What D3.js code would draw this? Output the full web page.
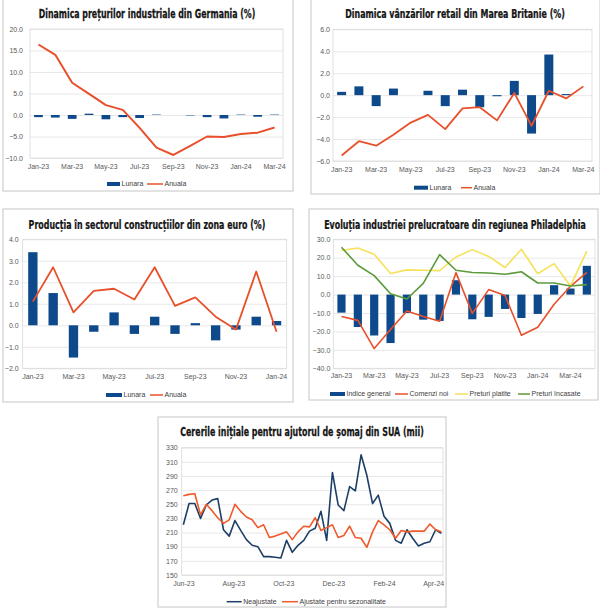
<!DOCTYPE html>
<html>
<head>
<meta charset="utf-8">
<script src="https://cdn.jsdelivr.net/npm/d3@7"></script>
<style>
  body { margin: 0; background: #fff; }
  svg text { font-family: "Liberation Sans", Arial, sans-serif; }
  .tick text { fill: #595959; font-size: 7px; }
  .title { font-family: "Liberation Sans Narrow", "DejaVu Sans Condensed", sans-serif; font-weight: bold; font-size: 12.5px; fill: #151515; stroke: #151515; stroke-width: 0.25; }
  .legend text { font-size: 7px; fill: #404040; }
  .grid line { stroke: #e2e2e2; stroke-width: 0.8; }
</style>
</head>
<body>
<div id="graphic"></div>
<script>
// ---- data ----
var months15 = ["Jan-23","Feb-23","Mar-23","Apr-23","May-23","Jun-23","Jul-23","Aug-23","Sep-23","Oct-23","Nov-23","Dec-23","Jan-24","Feb-24","Mar-24"];
var months13 = ["Jan-23","Feb-23","Mar-23","Apr-23","May-23","Jun-23","Jul-23","Aug-23","Sep-23","Oct-23","Nov-23","Dec-23","Jan-24"];
var months16 = ["Jan-23","Feb-23","Mar-23","Apr-23","May-23","Jun-23","Jul-23","Aug-23","Sep-23","Oct-23","Nov-23","Dec-23","Jan-24","Feb-24","Mar-24","Apr-24"];

// Germania - preturi industriale (%)
var deLunara = [-0.5, -0.6, -0.9, 0.3, -1.0, -0.5, -0.7, 0.1, 0.0, -0.1, -0.5, -0.8, 0.1, -0.4, 0.1];
var deAnuala = [16.4, 14.0, 7.5, 4.9, 2.3, 1.2, -3.0, -7.6, -9.3, -7.2, -5.0, -5.1, -4.4, -4.1, -2.9];

// Marea Britanie - vanzari retail (%)
var ukLunara = [0.3, 0.8, -1.0, 0.6, 0.0, 0.4, -1.0, 0.5, -1.1, -0.1, 1.3, -3.5, 3.7, 0.1, 0.0];
var ukAnuala = [-5.5, -4.2, -4.6, -3.6, -2.5, -1.8, -3.1, -1.2, -1.1, -2.3, 0.2, -2.8, 0.4, -0.3, 0.8];

// zona euro - constructii (%)
var ezLunara = [3.4, 1.5, -1.5, -0.3, 0.6, -0.4, 0.4, -0.4, 0.1, -0.7, -0.2, 0.4, 0.2];
var ezAnuala = [1.1, 2.7, 0.6, 1.6, 1.7, 1.2, 2.7, 0.9, 1.3, 0.4, -0.2, 2.5, -0.3];

// Philadelphia
var phIndice   = [-9.8, -17.6, -22.2, -26.3, -10.0, -13.6, -14.3, 7.8, -13.4, -12.1, -7.8, -12.7, -10.5, 5.1, 3.3, 15.6];
var phComenzi  = [-11.9, -14.0, -29.3, -19.0, -8.9, -11.9, -14.5, 11.9, -10.2, 2.7, -0.5, -22.1, -17.7, -5.2, 4.5, 12.0];
var phPlatite  = [23.9, 25.3, 21.9, 11.4, 13.4, 13.2, 13.0, 20.4, 24.4, 20.7, 14.7, 24.6, 11.3, 16.8, 4.7, 23.6];
var phIncasate = [25.7, 15.9, 10.3, 0.5, -2.4, 6.1, 21.7, 13.2, 12.0, 11.7, 11.0, 12.4, 6.3, 6.3, 4.7, 5.4];

// SUA - cereri initiale somaj (mii), saptamanal
var weeks = ["2023-06-01","2023-06-08","2023-06-15","2023-06-22","2023-06-29","2023-07-06","2023-07-13","2023-07-20","2023-07-27",
  "2023-08-03","2023-08-10","2023-08-17","2023-08-24","2023-08-31","2023-09-07","2023-09-14","2023-09-21","2023-09-28",
  "2023-10-05","2023-10-12","2023-10-19","2023-10-26","2023-11-02","2023-11-09","2023-11-16","2023-11-23","2023-11-30",
  "2023-12-07","2023-12-14","2023-12-21","2023-12-28","2024-01-04","2024-01-11","2024-01-18","2024-01-25","2024-02-01",
  "2024-02-08","2024-02-15","2024-02-22","2024-02-29","2024-03-07","2024-03-14","2024-03-21","2024-03-28","2024-04-04","2024-04-11"];
var claimsNSA = [221, 251, 251, 230, 249, 256, 258, 214, 205, 227, 213, 200, 192, 190, 176, 176, 175, 174, 199, 182,
  192, 199, 212, 216, 240, 199, 295, 249, 241, 275, 269, 320, 291, 251, 263, 233, 223, 199, 195, 214, 202, 191, 195, 197, 214, 209];
var claimsSA = [262, 264, 265, 235, 250, 241, 231, 223, 228, 250, 240, 232, 228, 217, 221, 203, 205, 208, 211, 200,
  211, 219, 218, 231, 213, 217, 221, 203, 206, 219, 203, 202, 189, 211, 227, 221, 214, 202, 213, 211, 212, 212, 212, 222, 214, 211];
var claimsTicks = ["2023-06-01","2023-08-01","2023-10-01","2023-12-01","2024-02-01","2024-04-01"];

var barColour = "#0e4a8b", redColour = "#e8502c";

var svg = d3.select('#graphic').append('svg')
  .attr('width', 600)
  .attr('height', 608);

function drawPanel(p) {
  var g = svg.append('g');

  g.append('rect')
    .attr('x', p.box[0]).attr('y', p.box[1])
    .attr('width', p.box[2] - p.box[0]).attr('height', p.box[3] - p.box[1])
    .attr('fill', '#fff').attr('stroke', '#c6c6c6');

  // title squeezed horizontally to the reference width
  var tg = g.append('g');
  var tt = tg.append('text')
    .attr('class', 'title')
    .attr('text-anchor', 'middle')
    .text(p.title.text);
  var natural = tt.node().getComputedTextLength();
  tg.attr('transform', 'translate(' + p.title.x + ',' + p.title.y + ') scale(' + (p.title.w / natural) + ',1)');

  var y = d3.scaleLinear().domain(p.yDomain).range([p.plot.y1, p.plot.y0]);
  var w = p.plot.x1 - p.plot.x0;

  // gridlines
  g.append('g')
    .attr('class', 'grid')
    .attr('transform', 'translate(' + p.plot.x0 + ',0)')
    .call(d3.axisLeft(y).tickValues(p.yTicks).tickSize(-w).tickFormat(''))
    .call(s => s.select('.domain').remove());
  g.append('rect')
    .attr('x', p.plot.x0).attr('y', p.plot.y0)
    .attr('width', w).attr('height', p.plot.y1 - p.plot.y0)
    .attr('fill', 'none').attr('stroke', '#d9d9d9').attr('stroke-width', 0.8);

  // y axis
  g.append('g')
    .attr('transform', 'translate(' + p.plot.x0 + ',0)')
    .call(d3.axisLeft(y).tickValues(p.yTicks).tickSize(0).tickPadding(p.yPad).tickFormat(d3.format(p.yFormat)))
    .call(s => s.select('.domain').remove())
    .selectAll('text').style('font-family', '"Liberation Sans", Arial, sans-serif');

  // x axis
  var x, xc;
  if (p.time) {
    x = d3.scaleTime().domain(p.xDomain).range([p.plot.x0, p.plot.x1]);
    xc = x;
  } else {
    x = d3.scaleBand().domain(p.categories).range([p.plot.x0, p.plot.x1]).padding(0);
    xc = d => x(d) + x.bandwidth() / 2;
  }
  var xAxis = d3.axisBottom(x).tickSize(0).tickPadding(p.xPad).tickValues(p.xTicks);
  if (p.time) xAxis.tickFormat(d3.timeFormat('%b-%y'));
  g.append('g')
    .attr('transform', 'translate(0,' + p.plot.y1 + ')')
    .call(xAxis)
    .call(s => s.select('.domain').remove());

  // bars
  (p.bars || []).forEach(function(b) {
    var bw = x.bandwidth() * b.width;
    g.append('g').selectAll('rect')
      .data(b.values)
      .join('rect')
      .attr('x', (d, i) => xc(p.categories[i]) - bw / 2)
      .attr('width', bw)
      .attr('y', d => y(Math.max(0, d)))
      .attr('height', d => Math.abs(y(d) - y(0)))
      .attr('fill', b.colour);
  });

  // lines
  (p.lines || []).forEach(function(l) {
    var line = d3.line()
      .x((d, i) => xc(p.categories[i]))
      .y(d => y(d));
    g.append('path')
      .attr('d', line(l.values))
      .attr('fill', 'none')
      .attr('stroke', l.colour)
      .attr('stroke-width', l.width || 1.8)
      .attr('stroke-linejoin', 'round');
  });

  // legend
  var lg = g.append('g').attr('class', 'legend');
  p.legend.items.forEach(function(it) {
    if (it.type == 'bar') {
      lg.append('rect')
        .attr('x', it.x0).attr('y', p.legend.y - 2)
        .attr('width', it.x1 - it.x0).attr('height', 4)
        .attr('fill', it.colour);
    } else {
      lg.append('line')
        .attr('x1', it.x0).attr('x2', it.x1)
        .attr('y1', p.legend.y).attr('y2', p.legend.y)
        .attr('stroke', it.colour).attr('stroke-width', 1.5);
    }
    lg.append('text')
      .attr('x', it.x1 + 1.5).attr('y', p.legend.y)
      .attr('dy', '0.35em')
      .text(it.label);
  });
}

var every2 = arr => arr.filter((d, i) => i % 2 == 0);

// 1. Germania
drawPanel({
  box: [3, -1, 293, 191],
  title: { text: "Dinamica prețurilor industriale din Germania (%)", x: 147, y: 18, w: 217 },
  plot: { x0: 30, x1: 283, y0: 29, y1: 158 },
  yDomain: [-10, 20], yTicks: [-10, -5, 0, 5, 10, 15, 20], yFormat: '.1f', yPad: 7,
  categories: months15, xTicks: every2(months15), xPad: 6,
  bars: [{ values: deLunara, colour: barColour, width: 0.52 }],
  lines: [{ values: deAnuala, colour: redColour, width: 2 }],
  legend: { y: 184, items: [
    { type: 'bar', x0: 107, x1: 120, colour: barColour, label: 'Lunara' },
    { type: 'line', x0: 147, x1: 163, colour: redColour, label: 'Anuala' }] }
});

// 2. Marea Britanie
drawPanel({
  box: [311, -1, 600, 194],
  title: { text: "Dinamica vânzărilor retail din Marea Britanie (%)", x: 455, y: 18, w: 220 },
  plot: { x0: 333, x1: 592, y0: 29.3, y1: 161 },
  yDomain: [-6, 6], yTicks: [-6, -4, -2, 0, 2, 4, 6], yFormat: '.1f', yPad: 3,
  categories: months15, xTicks: every2(months15), xPad: 6,
  bars: [{ values: ukLunara, colour: barColour, width: 0.52 }],
  lines: [{ values: ukAnuala, colour: redColour, width: 1.8 }],
  legend: { y: 187.7, items: [
    { type: 'bar', x0: 414, x1: 428, colour: barColour, label: 'Lunara' },
    { type: 'line', x0: 461, x1: 472, colour: redColour, label: 'Anuala' }] }
});

// 3. zona euro
drawPanel({
  box: [3, 209, 293, 402],
  title: { text: "Producția în sectorul construcțiilor din zona euro (%)", x: 147, y: 228.5, w: 237 },
  plot: { x0: 22.7, x1: 286.7, y0: 239.3, y1: 368.3 },
  yDomain: [-2, 4], yTicks: [-2, -1, 0, 1, 2, 3, 4], yFormat: '.1f', yPad: 4,
  categories: months13, xTicks: every2(months13), xPad: 6,
  bars: [{ values: ezLunara, colour: barColour, width: 0.46 }],
  lines: [{ values: ezAnuala, colour: redColour, width: 1.8 }],
  legend: { y: 395, items: [
    { type: 'bar', x0: 106, x1: 122, colour: barColour, label: 'Lunara' },
    { type: 'line', x0: 150, x1: 163, colour: redColour, label: 'Anuala' }] }
});

// 4. Philadelphia
drawPanel({
  box: [309, 209, 598, 400],
  title: { text: "Evoluția industriei prelucratoare din regiunea Philadelphia", x: 455, y: 228.5, w: 262 },
  plot: { x0: 333.3, x1: 595, y0: 239.3, y1: 368.3 },
  yDomain: [-40, 30], yTicks: [-40, -30, -20, -10, 0, 10, 20, 30], yFormat: '.1f', yPad: 3,
  categories: months16, xTicks: every2(months16), xPad: 5,
  bars: [{ values: phIndice, colour: barColour, width: 0.5 }],
  lines: [
    { values: phComenzi, colour: redColour, width: 1.6 },
    { values: phPlatite, colour: "#f6e15a", width: 1.6 },
    { values: phIncasate, colour: "#5c9a3b", width: 1.6 }],
  legend: { y: 394, items: [
    { type: 'bar', x0: 330, x1: 345, colour: barColour, label: 'Indice general' },
    { type: 'line', x0: 395, x1: 408, colour: redColour, label: 'Comenzi noi' },
    { type: 'line', x0: 455, x1: 468, colour: "#f6e15a", label: 'Preturi platite' },
    { type: 'line', x0: 518, x1: 530, colour: "#5c9a3b", label: 'Preturi încasate' }] }
});

// 5. SUA
var parse = d3.timeParse('%Y-%m-%d');
drawPanel({
  box: [158, 417, 446, 607],
  title: { text: "Cererile inițiale pentru ajutorul de șomaj din SUA (mii)", x: 302, y: 435.5, w: 244 },
  plot: { x0: 181.7, x1: 443, y0: 447.7, y1: 575 },
  yDomain: [150, 330], yTicks: d3.range(150, 331, 20), yFormat: 'd', yPad: 4,
  time: true, xDomain: [parse('2023-05-30'), parse('2024-04-13')],
  categories: weeks.map(parse), xTicks: claimsTicks.map(parse), xPad: 6,
  lines: [
    { values: claimsNSA, colour: "#1d3f66", width: 1.6 },
    { values: claimsSA, colour: "#ef5a2a", width: 1.6 }],
  legend: { y: 601.7, items: [
    { type: 'line', x0: 226.7, x1: 241.7, colour: "#1d3f66", label: 'Neajustate' },
    { type: 'line', x0: 282, x1: 298, colour: "#ef5a2a", label: 'Ajustate pentru sezonalitate' }] }
});
</script>
</body>
</html>
